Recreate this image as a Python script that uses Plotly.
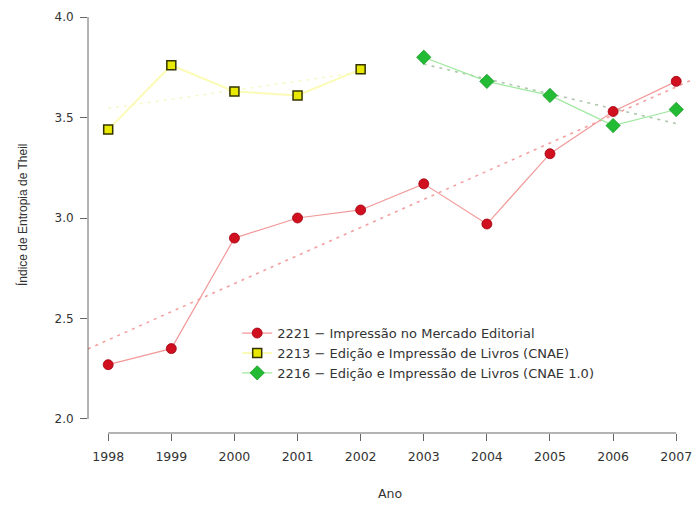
import numpy as np
import plotly.graph_objects as go

years = [1998, 1999, 2000, 2001, 2002, 2003, 2004, 2005, 2006, 2007]
red_vals = [2.27, 2.35, 2.90, 3.00, 3.04, 3.17, 2.97, 3.32, 3.53, 3.68]
yellow_years = [1998, 1999, 2000, 2001, 2002]
yellow_vals = [3.44, 3.76, 3.63, 3.61, 3.74]
green_years = [2003, 2004, 2005, 2006, 2007]
green_vals = [3.80, 3.68, 3.61, 3.46, 3.54]
y_ticks = [2.0, 2.5, 3.0, 3.5, 4.0]
names = ["2221 \u2212 Impress\u00e3o no Mercado Editorial",
         "2213 \u2212 Edi\u00e7\u00e3o e Impress\u00e3o de Livros (CNAE)",
         "2216 \u2212 Edi\u00e7\u00e3o e Impress\u00e3o de Livros (CNAE 1.0)"]

XR = [1997.68, 2007.25]
YR = [1.93, 4.08]
WIDE = "DejaVu Sans, Verdana, sans-serif"
NARROW = "Liberation Sans, Arial, sans-serif"
TXT = "#333333"

def fit(xs, ys, xe):
    b, a = np.polyfit(xs, ys, 1)
    xe = np.array(xe, dtype=float)
    return xe, a + b * xe

fig = go.Figure()

# trend lines
tx, ty = fit(years, red_vals, XR)
fig.add_trace(go.Scatter(x=tx, y=ty, mode="lines", showlegend=False, hoverinfo="skip",
                         line=dict(color="#f4a0a0", width=1.6, dash="3px,5px")))
tx, ty = fit(yellow_years, yellow_vals, [yellow_years[0], yellow_years[-1]])
fig.add_trace(go.Scatter(x=tx, y=ty, mode="lines", showlegend=False, hoverinfo="skip",
                         line=dict(color="#f8f8cc", width=1.6, dash="3px,5px")))
tx, ty = fit(green_years, green_vals, [green_years[0], green_years[-1]])
fig.add_trace(go.Scatter(x=tx, y=ty, mode="lines", showlegend=False, hoverinfo="skip",
                         line=dict(color="#b0c8b0", width=1.6, dash="3px,5px")))

# data series
fig.add_trace(go.Scatter(x=years, y=red_vals, mode="lines+markers", name=names[0],
                         line=dict(color="#f29a9a", width=1.2),
                         marker=dict(symbol="circle", size=10, color="#d0101e",
                                     line=dict(color="#a00010", width=0.8))))
fig.add_trace(go.Scatter(x=yellow_years, y=yellow_vals, mode="lines+markers", name=names[1],
                         line=dict(color="#fbfbb8", width=2),
                         marker=dict(symbol="square", size=9, color="#e8e800",
                                     line=dict(color="#333300", width=1.5))))
fig.add_trace(go.Scatter(x=green_years, y=green_vals, mode="lines+markers", name=names[2],
                         line=dict(color="#9ee89e", width=1.2),
                         marker=dict(symbol="diamond", size=11, color="#22bb33",
                                     line=dict(color="#1a9a2a", width=0.8))))

axis_col = "#666666"
fig.update_xaxes(range=XR, tickmode="array", tickvals=years,
                 ticktext=[str(y) for y in years], ticks="outside", ticklen=7,
                 tickcolor=axis_col, showline=False, showgrid=False, zeroline=False,
                 tickfont=dict(family=WIDE, size=12.5, color=TXT),
                 ticklabelstandoff=5, ticklabeloverflow="allow")
fig.update_yaxes(range=YR, tickmode="array", tickvals=y_ticks,
                 ticktext=[f"{v:.1f}" for v in y_ticks], ticks="outside", ticklen=7,
                 tickcolor=axis_col, showline=False, showgrid=False, zeroline=False,
                 tickfont=dict(family=WIDE, size=12, color=TXT),
                 ticklabelstandoff=4)

# R-style axis lines spanning only the tick range
fig.add_shape(type="line", xref="x", yref="paper", x0=years[0], x1=years[-1], y0=0, y1=0,
              line=dict(color=axis_col, width=1))
fig.add_shape(type="line", xref="paper", yref="y", x0=0, x1=0, y0=y_ticks[0], y1=y_ticks[-1],
              line=dict(color=axis_col, width=1))

fig.add_annotation(text="Ano", xref="paper", yref="paper", x=0.5, y=-0.163,
                   showarrow=False, font=dict(family=WIDE, size=12.5, color=TXT))
fig.add_annotation(text="\u00cdndice de Entropia de Theil", xref="paper", yref="paper",
                   x=-0.123, y=0.505, textangle=-90, showarrow=False,
                   font=dict(family=NARROW, size=12, color=TXT))

fig.update_layout(
    width=692, height=507,
    margin=dict(l=88, r=0, t=1, b=74),
    paper_bgcolor="white", plot_bgcolor="white",
    font=dict(family=WIDE, size=12, color=TXT),
    legend=dict(x=0.247, y=0.266, xanchor="left", yanchor="top",
                bgcolor="rgba(0,0,0,0)", font=dict(family=WIDE, size=13, color=TXT),
                tracegroupgap=0, itemwidth=30),
)

fig.write_html("out.html")
